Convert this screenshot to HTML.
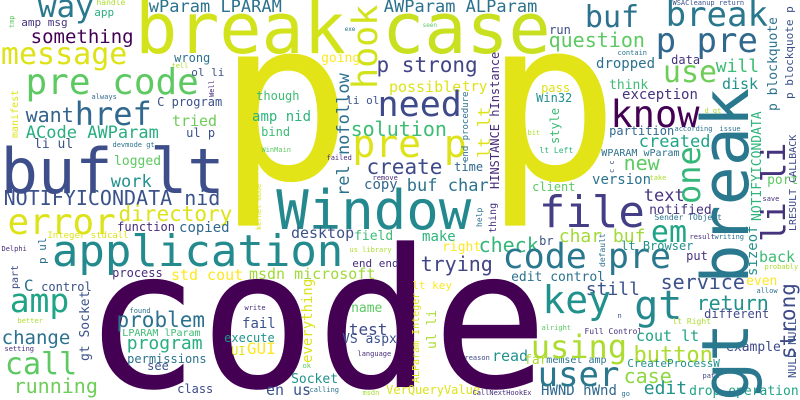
<!DOCTYPE html>
<html><head><meta charset="utf-8">
<style>
html,body{margin:0;padding:0;background:#fff;}
#cloud{position:relative;width:800px;height:400px;overflow:hidden;background:#fff;}
.w{position:absolute;white-space:pre;line-height:1;font-family:"DejaVu Sans Mono","Liberation Mono",monospace;}
</style></head>
<body>
<div id="cloud"></div>
<script>
var P="#440154",P2="#472d7b",B="#3b528b",B2="#2c728e",T="#21918c",T2="#28ae80",G="#5ec962",Y="#addc30",Y2="#dde318",YY="#fde725";
var horiz=[
["p",233,179,224,"#e2e418"],["p",500,179,224,"#e2e418"],["code",97,387,193,P],
["break",140,53,70,"#d2e21b"],["case",387,53,70,"#c8e020"],["Window",280,230,54,"#23898e"],
["application",55,267,44,"#238a8d"],["buf lt",5,193,62,"#3d4e8a"],["NOTIFYICONDATA nid",5,205,20,B],
["error",10,235,36,Y2],["pre code",28,95,36,G],["message",3,65,30,Y2],["href",77,125,32,"#31688e"],
["way",40,18,31,"#2a788e"],["something",32,44,19,P],["app",95,16,11,T2],["handle",97,6,8,Y],
["amp msg",22,26,11,"#46337e"],["want",27,122,20,"#33638d"],["ACode AWParam",27,139,17,T2],
["li ul",35,149,13,B],["devmode gt",113,148,7,B2],["always",92,100,7,"#31688e"],["logged",115,166,13,G],
["work",112,188,17,T],["directory",120,222,21,Y2],["function",118,231,12,P2],["Integer stdcall",48,240,9,Y2],
["copied",180,233,14,"#31688e"],["Delphi",2,252,7,P2],["amp",12,312,33,"#20a486"],["C",25,292,16,B2],
["control",42,291,12,B],["process",113,277,12,P2],["std cout",172,281,15,YY],["change",3,345,19,B2],
["call",7,375,30,G],["running",15,393,20,"#6ece58"],["setting",5,352,7,P2],["better",18,324,7,Y],
["found",130,314,7,B2],["problem",118,328,21,B2],["LPARAM lParam",123,337,10,"#3dbc74"],
["program",128,350,18,T2],["permissions",128,363,12,B2],["see",148,370,12,B],["class",178,393,12,"#3e4a89"],
["wParam LPARAM",150,13,17,B2],["wrong",175,62,12,B2],["tell",172,69,7,Y],["ol li",192,76,11,B],
["C program",158,106,12,B],["tried",173,127,15,"#6ece58"],["ul p",187,137,12,B],["though",257,100,12,"#3dbc74"],
["amp nid",253,122,14,"#2fb47c"],["bind",262,136,12,"#3dbc74"],["WinMain",262,153,7,G],["exe",345,32,6,B2],
["AWParam ALParam",385,13,17,B2],["seen",423,28,6,G],["going",322,63,13,YY],["p strong",378,73,21,"#414487"],
["possible",390,93,15,Y2],["try",463,92,14,Y2],["li ol",347,104,11,B],["need",380,118,35,"#3e4a89"],
["solution",352,136,20,"#3dbc74"],["pre p",355,157,38,Y2],["create",368,175,21,"#3e4a89"],["time",455,171,12,"#31688e"],
["failed",327,161,7,P2],["remove",373,181,7,P2],["copy",365,190,14,"#31688e"],["buf char",408,192,17,B2],
["desktop",292,239,15,B],["field",355,241,13,"#3dbc74"],["make",423,242,14,"#2fb47c"],["check",480,252,20,"#35b779"],
["right",443,252,13,YY],["us library",350,253,7,Y],["end end",353,267,11,P2],["msdn microsoft",250,280,15,"#a0da39"],
["trying",422,271,20,"#414487"],["code pre",505,270,35,"#2a788e"],["br",540,245,12,B],["char buf",560,243,18,"#a2da37"],
["lt Browser",622,250,12,T],["lt key",413,289,11,YY],["edit control",512,282,13,B2],["still",587,296,18,B],
["name",352,313,13,G],["write",245,311,7,P2],["fail",243,329,14,B],["execute",225,342,12,T],["UI",232,355,12,Y2],
["GUI",248,355,16,YY],["test",350,336,16,"#3e4a89"],["VS aspx",343,344,13,B],["ok",303,369,7,G],["language",358,357,7,P2],
["Socket",292,384,13,T],["en us",267,396,15,B],["calling",310,393,7,B2],["msdn",363,396,7,Y],["VerQueryValue",387,394,12,Y2],
["read",493,362,15,T],["far",525,365,13,Y],["memset amp",547,364,10,B2],["reason",465,361,7,"#3e4a89"],
["HWND hWnd",542,396,14,"#31688e"],["CallNextHookEx",473,396,7,P2],["go",622,397,7,B2],["user",540,387,34,"#2a788e"],
["using",533,358,32,Y],["key",545,313,38,T],["alright",542,331,7,G],["Full Control",585,335,8,P2],["file",542,228,44,"#433e85"],
["client",533,191,12,G],["version",593,185,14,B2],["new",625,170,20,G],["WPARAM wParam",602,157,10,B2],
["partition",610,135,12,"#31688e"],["lt Left",540,154,8,"#2fb47c"],["bit",528,136,7,Y],["Win32",537,102,12,T],
["pass",542,92,12,Y2],["dropped",597,69,14,B2],["think",610,90,13,"#3dbc74"],["exception",623,100,14,"#46337e"],
["contain",618,56,7,B2],["question",550,47,20,G],["run",550,34,12,"#3e4a89"],["buf",587,28,30,B2],
["break",668,27,34,"#2a788e"],["WSACleanup return",673,6,7,B],["p pre",658,53,34,"#31688e"],["use",665,83,30,"#6ece58"],
["will",717,73,18,"#3dbc74"],["data",672,64,12,"#46337e"],["disk",723,90,15,T],["know",613,127,37,P],["d gt",705,114,7,Y],
["according",675,132,7,B2],["issue",720,132,7,B2],["created",640,148,17,"#20a486"],["port",768,185,13,G],["take",650,181,7,Y],
["save",763,202,7,P2],["Sender TObject",655,221,8,B2],["text",645,202,17,"#46337e"],["notified",650,215,13,"#46337e"],
["em",653,243,30,"#20a486"],["result",690,240,7,P2],["writing",715,240,7,B2],["back",760,263,15,"#3dbc74"],
["probably",765,270,7,Y],["put",687,260,12,"#46337e"],["service",662,289,20,B],["even",747,286,13,YY],["allow",757,294,7,B2],
["gt",637,320,40,"#23898e"],["return",698,310,20,T],["different",705,318,12,"#3e4a89"],["lt Right",673,325,8,Y],
["cout lt",637,342,15,"#20a486"],["button",635,364,22,Y],["example",727,352,13,"#3e4a89"],["CreateProcessW",628,367,11,T],
["case",625,383,20,"#8fd744"],["edit",645,395,18,T],["drop operation",690,396,13,"#20a486"],["path",703,379,7,"#3e4a89"],["n",618,319,7,B]
];
var vert=[
["tmp",10,28,7,G],["manifest",12,137,10,Y2],["p ul",38,263,11,B2],["part",12,288,10,"#3e4a89"],["gt Socket",80,360,13,B],
["Well",210,97,7,P2],["hook",352,87,35,"#d2e21b"],["rel nofollow",337,195,17,B2],["end procedure",463,162,9,B2],
["lt lt",478,157,17,Y2],["HINSTANCE hInstance",490,188,12,P2],["kernel mode",257,230,7,Y2],["help",477,227,8,B2],
["thing",490,232,10,"#46337e"],["default",600,267,8,B2],["everything",302,362,14,Y2],["ALParam Integer",413,382,10,Y2],
["ul li",427,348,13,Y],["style",550,143,12,"#3dbc74"],["c c",610,173,7,B],["p blockquote p",785,98,11,B],
["p blockquote",768,110,13,B2],["one",676,202,32,"#35b779"],["NOTIFYICONDATA",752,220,13,"#2fb47c"],
["li li",760,240,33,"#46337e"],["LRESULT CALLBACK",790,230,10,"#3e4a89"],["sizeof",747,275,14,T],
["strong",780,358,21,"#3e4a89"],["NULL NULL",788,377,11,B],["gt break",700,398,65,"#2a788e"]
];
var cloud=document.getElementById('cloud');
function slug(t){return t.toLowerCase().replace(/[^a-z0-9]+/g,'-').replace(/^-|-$/g,'');}
horiz.forEach(function(d){
  var el=document.createElement('div');
  el.className='w';
  el.textContent=d[0];
  var s=d[3];
  el.style.fontSize=s+'px';
  el.style.color=d[4];
  el.style.left=(d[1]-0.07*s)+'px';
  el.style.top=(d[2]-0.846*s)+'px';
  
  
  cloud.appendChild(el);
});
vert.forEach(function(d){
  var el=document.createElement('div');
  el.className='w';
  el.textContent=d[0];
  var s=d[3];
  el.style.fontSize=s+'px';
  el.style.color=d[4];
  el.style.left=(d[1]-0.086*s)+'px';
  el.style.top=(d[2]+0.05*s)+'px';
  el.style.transformOrigin='0 0';
  el.style.transform='rotate(-90deg)';
  
  
  cloud.appendChild(el);
});
</script>
</body></html>
